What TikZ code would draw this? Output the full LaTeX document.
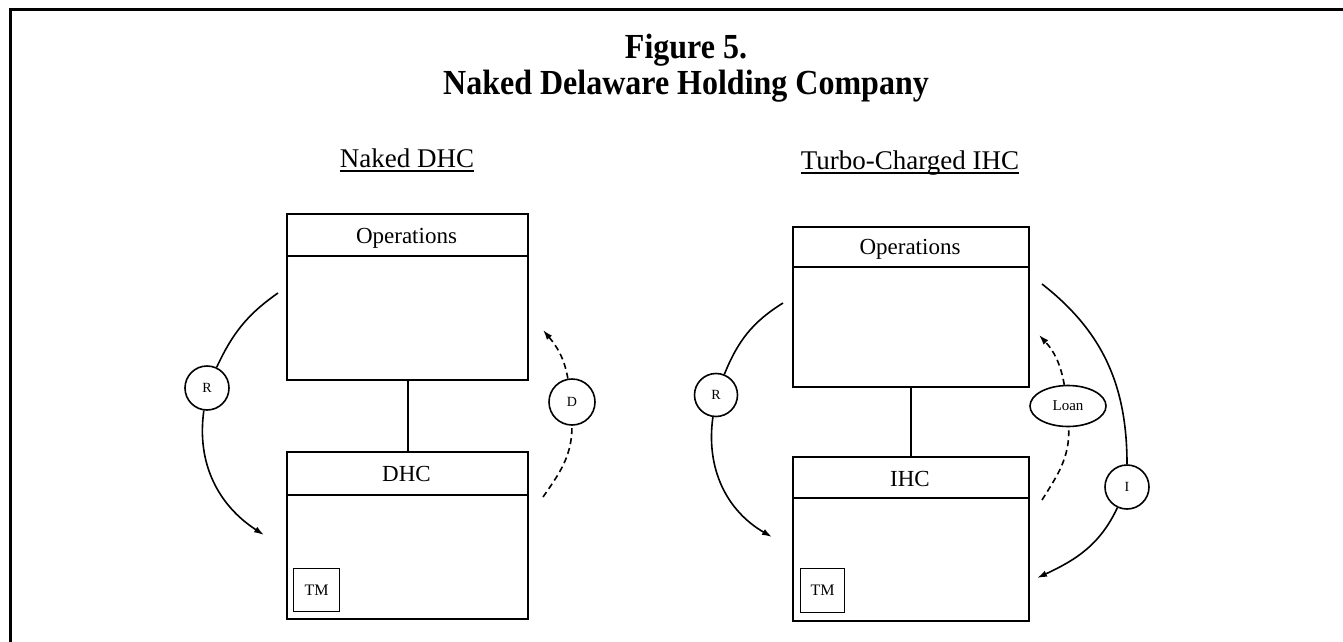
\documentclass[tikz,border=0pt]{standalone}
\usepackage{fontspec}
\setmainfont{Liberation Serif}
\usetikzlibrary{arrows.meta,shapes.geometric}
\begin{document}
\begin{tikzpicture}[x=1pt,y=1pt,
  frameline/.style={line width=3pt},
  boxline/.style={line width=2pt},
  box/.style={draw, line width=2pt, inner sep=0pt, anchor=north west},
  hdr/.style={font=\fontsize{23}{23}\selectfont, inner sep=0pt, anchor=base},
  ttl/.style={font=\fontsize{32}{32}\selectfont\bfseries, inner sep=0pt, anchor=base},
  sub/.style={font=\fontsize{27}{27}\selectfont, inner sep=0pt, anchor=base},
  tmbox/.style={draw, line width=1.3pt, inner sep=0pt, anchor=north west,
    font=\fontsize{16}{16}\selectfont},
  tag/.style={draw, circle, line width=1.6pt, minimum size=44pt, inner sep=0pt,
    font=\fontsize{14}{14}\selectfont},
  flowline/.style={line width=1.6pt},
  flow/.style={line width=1.6pt, -{Latex[length=10pt,width=6.5pt]}},
  dashes/.style={dash pattern=on 6pt off 4pt}
]
\useasboundingbox (0,0) rectangle (1343,-642);
\fill[white] (0,0) rectangle (1343,-642);

% outer frame
\coordinate (fb) at (10.5,-642);
\coordinate (fc) at (10.5,-10);
\coordinate (fr) at (1343,-10);
\draw[frameline] (fb) -- (fc) -- (fr);

% heading
\node[ttl] (t1) at (686,-59) {\scalebox{1}[1.1]{Figure 5.}};
\node[ttl] (t2) at (686,-94) {\scalebox{1}[1.1]{Naked Delaware Holding Company}};

% ---------- left: naked DHC ----------
\node[sub] (subL) at (407,-167) {Naked DHC};
\draw[line width=1.4pt] ([yshift=-4pt]subL.base west) -- ([yshift=-4pt]subL.base east);

\node[box, minimum width=241pt, minimum height=166pt] (opsL) at (286,-213) {};
\draw[boxline] ([yshift=-43pt]opsL.north west) -- ([yshift=-43pt]opsL.north east);
\node[hdr] (opsLt) at (406.5,-243) {Operations};

\node[box, minimum width=241pt, minimum height=167pt] (dhc) at (286,-451) {};
\draw[boxline] ([yshift=-44pt]dhc.north west) -- ([yshift=-44pt]dhc.north east);
\node[hdr] (dhct) at (406.5,-481) {DHC};
\node[tmbox, minimum width=46pt, minimum height=43pt] (tmL) at (293,-568) {TM};

\draw[boxline] (opsL.south) -- (dhc.north);

\node[tag] (rL) at (207,-388) {R};
\node[tag, minimum size=46pt] (dL) at (572,-402) {D};

\coordinate (rL0) at (278,-293);
\coordinate (rL1) at (264,-535);
\draw[flowline] (rL0) to[out=215,in=65] (rL);
\draw[flow] (rL) to[out=262,in=147] (rL1);

\coordinate (dL0) at (543,-497);
\coordinate (dL1) at (543,-330);
\draw[flowline, dashes] (dL0) to[out=55,in=270] (dL);
\draw[flow, dashes] (dL) to[out=100,in=310] (dL1);

% ---------- right: turbo-charged IHC ----------
\node[sub] (subR) at (910,-169) {Turbo-Charged IHC};
\draw[line width=1.4pt] ([yshift=-4pt]subR.base west) -- ([yshift=-4pt]subR.base east);

\node[box, minimum width=236pt, minimum height=160pt] (opsR) at (792,-226) {};
\draw[boxline] ([yshift=-41pt]opsR.north west) -- ([yshift=-41pt]opsR.north east);
\node[hdr] (opsRt) at (910,-254) {Operations};

\node[box, minimum width=236pt, minimum height=164pt] (ihc) at (792,-456) {};
\draw[boxline] ([yshift=-42pt]ihc.north west) -- ([yshift=-42pt]ihc.north east);
\node[hdr] (ihct) at (910,-486) {IHC};
\node[tmbox, minimum width=44pt, minimum height=44pt] (tmR) at (800,-568) {TM};

\draw[boxline] (opsR.south) -- (ihc.north);

\node[tag, minimum size=43pt] (rR) at (716,-395) {R};
\node[draw, ellipse, line width=1.6pt, minimum width=76pt, minimum height=41pt,
  inner sep=0pt, font=\fontsize{15}{15}\selectfont] (loan) at (1068,-406) {Loan};
\node[tag] (iR) at (1127,-487) {I};

\coordinate (rR0) at (783,-303);
\coordinate (rR1) at (772,-537);
\draw[flowline] (rR0) to[out=212,in=68] (rR);
\draw[flow] (rR) to[out=262,in=150] (rR1);

\coordinate (ln0) at (1042,-500);
\coordinate (ln1) at (1039,-335);
\draw[flowline, dashes] (ln0) to[out=58,in=272] (loan);
\draw[flow, dashes] (loan) to[out=100,in=313] (ln1);

\coordinate (iR0) at (1042,-284);
\coordinate (iR1) at (1037,-578);
\draw[flowline] (iR0) to[out=322,in=90] (iR);
\draw[flow] (iR) to[out=245,in=25] (iR1);
\end{tikzpicture}
\end{document}
